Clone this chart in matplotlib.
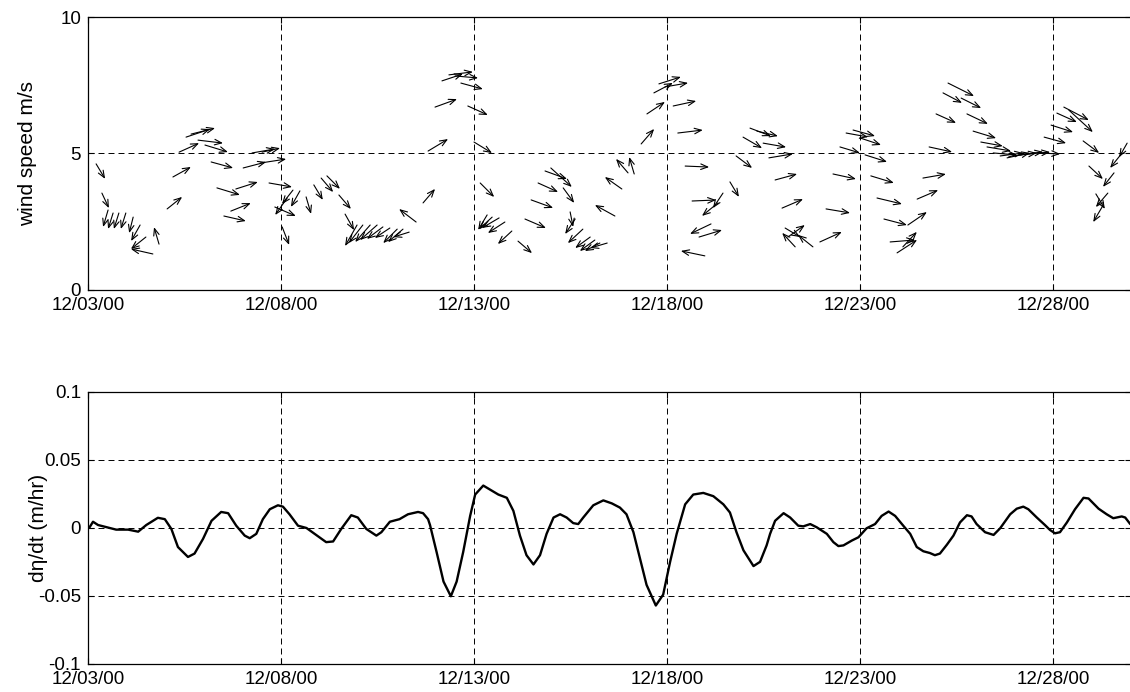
import matplotlib
matplotlib.use('Agg')
import matplotlib.pyplot as plt

plt.rcParams['font.family'] = ['Liberation Sans', 'DejaVu Sans']
plt.rcParams['lines.scale_dashes'] = False

# ---------------- data ----------------
tick_days = [0, 5, 10, 15, 20, 25]
tick_labels = ['12/03/00', '12/08/00', '12/13/00', '12/18/00', '12/23/00', '12/28/00']

# wind arrows: time (days since 12/03/00), wind speed (m/s), arrow components (u east, v north)
wind_t = [0.21, 0.36, 0.52, 0.65, 0.80, 0.98, 1.17, 1.35, 1.50, 1.68, 1.84, 2.05, 2.20, 2.36, 2.54,
          2.67, 2.85, 3.03, 3.19, 3.34, 3.52, 3.70, 3.83, 4.02, 4.25, 4.46, 4.51, 4.69, 4.84, 5.03,
          5.16, 5.31, 5.49, 5.65, 5.85, 6.04, 6.19, 6.50, 6.66, 6.97, 7.12, 7.31, 7.49, 7.64, 7.82,
          8.01, 8.16, 8.32, 8.50, 8.68, 8.81, 8.99, 9.17, 9.35, 9.51, 9.66, 9.84, 10.00, 10.16, 10.34,
          10.47, 10.65, 10.80, 10.98, 11.14, 11.32, 11.48, 11.66, 11.84, 11.99, 12.31, 12.49, 12.62, 12.82, 13.01,
          13.13, 13.26, 13.45, 13.65, 13.83, 13.99, 14.15, 14.33, 14.48, 14.66, 14.79, 14.95, 15.16, 15.28, 15.47,
          15.65, 15.83, 15.98, 16.14, 16.32, 16.45, 16.63, 16.79, 16.97, 17.15, 17.33, 17.49, 17.64, 17.80, 17.98,
          18.06, 18.13, 18.32, 18.78, 18.96, 19.12, 19.30, 19.48, 19.64, 19.82, 20.00, 20.13, 20.28, 20.44, 20.62,
          20.78, 20.96, 21.11, 21.24, 21.48, 21.63, 21.79, 21.97, 22.15, 22.28, 22.62, 22.77, 22.93, 23.13, 23.29,
          23.45, 23.63, 23.81, 23.96, 24.15, 24.33, 24.59, 24.77, 24.95, 25.10, 25.28, 25.41, 25.78, 25.93, 26.11,
          26.30, 26.42, 26.58, 26.79, 26.92]
wind_speed = [4.62, 3.55, 2.93, 2.82, 2.82, 2.82, 2.67, 2.38, 1.94, 1.32, 1.68, 2.97, 4.14, 5.05, 5.60,
              5.71, 5.49, 5.31, 4.69, 3.74, 2.71, 2.89, 3.70, 4.47, 5.02, 4.65, 5.05, 3.92, 3.04, 2.31,
              3.37, 3.66, 3.63, 3.41, 3.85, 4.10, 4.18, 3.48, 2.78, 2.38, 2.38, 2.38, 2.38, 2.31, 2.27,
              2.23, 2.23, 2.12, 2.49, 3.19, 5.09, 6.70, 7.66, 7.88, 7.84, 7.58, 6.74, 5.42, 3.92, 2.75,
              2.67, 2.64, 2.49, 2.16, 1.79, 2.60, 3.30, 3.92, 4.36, 4.47, 3.74, 2.86, 2.60, 2.23, 1.94,
              1.83, 1.72, 1.72, 2.71, 3.70, 4.29, 4.25, 5.35, 6.45, 7.22, 7.55, 7.44, 6.74, 5.75, 4.54,
              3.26, 1.94, 1.25, 2.42, 3.19, 3.55, 3.96, 4.91, 5.60, 5.93, 5.82, 5.38, 4.84, 4.03, 3.00,
              2.27, 1.94, 1.58, 1.58, 1.76, 2.97, 4.25, 5.24, 5.75, 5.86, 5.57, 4.95, 4.18, 3.37, 2.60,
              1.76, 1.36, 1.58, 2.38, 3.33, 4.10, 5.24, 6.45, 7.22, 7.58, 7.03, 6.45, 5.82, 5.42, 5.24,
              5.02, 4.91, 4.84, 4.91, 4.95, 4.98, 5.02, 5.60, 6.04, 6.48, 6.70, 6.59, 5.46, 4.54, 3.52,
              3.11, 3.55, 4.29, 5.02, 5.38]
wind_u = [1.8, 1.4, -1.0, -1.0, -1.0, -1.0, -0.8, -1.8, -3.0, -4.4, -1.0, 3.0, 3.6, 4.0, 4.8,
          4.8, 5.0, 4.6, 4.4, 4.6, 4.4, 4.0, 4.4, 4.6, 4.6, 5.2, 3.6, 4.6, 4.2, 1.4,
          -2.4, -2.2, -1.8, 1.0, 1.8, 2.4, 2.6, 2.4, 1.8, -2.4, -2.8, -3.0, -3.4, -3.2, -3.0,
          -2.8, -3.0, -3.2, -3.4, 2.4, 4.0, 4.4, 4.2, 4.8, 4.6, 4.4, 4.0, 3.6, 2.8, -1.8,
          -2.6, -3.4, -3.4, -2.8, 2.8, 4.2, 4.4, 4.0, 4.4, 4.2, 2.2, 0.6, -2.0, -3.0, -3.0,
          -3.0, -3.0, -3.4, -4.0, -3.4, -2.4, -1.0, 2.6, 3.6, 3.8, 4.4, 4.6, 4.6, 5.0, 4.8,
          4.8, 4.6, -4.8, -4.2, -3.2, -2.0, 1.8, 3.2, 3.8, 4.2, 4.2, 4.6, 4.8, 4.4, 4.2,
          3.0, 3.4, -2.6, -3.0, 4.4, 4.8, 4.6, 4.0, 4.4, 4.4, 4.2, 4.4, 4.6, 5.0, 4.6,
          5.0, 4.0, 2.8, 3.8, 4.2, 4.6, 4.6, 4.0, 3.8, 5.2, 4.0, 4.2, 4.6, 4.4, 4.8,
          4.8, 4.6, 4.6, 4.8, 4.6, 4.6, 4.6, 4.4, 4.4, 4.0, 5.0, 4.8, 3.2, 2.8, 1.8,
          -2.0, -2.4, -2.2, -2.4, -1.6]
wind_v = [-3.0, -3.0, -3.4, -3.2, -3.2, -3.2, -3.2, -3.2, -2.4, 1.0, 3.4, 2.4, 2.0, 1.8, 1.6,
          1.2, -0.6, -1.4, -1.2, -1.4, -1.0, 1.6, 1.4, 1.2, 0.8, 0.8, 0.8, -0.8, -1.8, -3.6,
          -3.4, -2.8, -3.2, -3.4, -3.0, -2.8, -2.6, -2.8, -3.2, -4.2, -3.6, -3.4, -3.0, -2.4, -2.0,
          -2.8, -2.6, -1.0, 2.6, 2.8, 2.4, 1.6, 1.4, 0.6, -0.4, -1.2, -1.8, -2.2, -2.8, -3.0,
          -2.4, -2.0, -2.2, -2.6, -2.4, -1.8, -1.6, -1.8, -1.6, -3.8, -3.0, -3.0, -3.0, -2.8, -2.2,
          -2.2, -1.6, -1.0, 2.2, 2.4, 2.8, 3.4, 3.0, 2.4, 2.0, 1.4, 0.8, 1.0, 0.6, -0.2,
          0.2, 1.4, 1.0, -2.0, -2.6, -3.0, -3.0, -2.4, -2.2, -1.6, -1.0, -0.8, 0.8, 1.2, 1.8,
          -1.8, 2.4, 2.8, 2.4, 2.0, -0.8, -1.0, -1.2, -0.8, -1.2, -1.4, -1.4, -1.4, -1.2, -1.2,
          0.4, 2.6, 3.0, 2.6, 1.8, 0.8, -1.0, -1.8, -2.0, -2.6, -2.0, -2.0, -1.4, -0.8, -0.8,
          -0.4, 0.6, 1.0, 0.6, 0.6, 0.4, -0.2, -1.2, -1.4, -1.8, -2.6, -4.4, -2.4, -2.6, -3.0,
          -3.4, -2.8, -2.8, -3.0, -2.8]

# rate of change of sea level
deta_t = [0.00, 0.04, 0.13, 0.26, 0.43, 0.73, 1.04, 1.30, 1.51, 1.81, 1.99, 2.16, 2.33, 2.59, 2.76,
          2.98, 3.20, 3.45, 3.63, 3.84, 4.06, 4.19, 4.36, 4.53, 4.71, 4.92, 5.05, 5.22, 5.44, 5.66,
          5.87, 6.17, 6.35, 6.56, 6.82, 6.99, 7.21, 7.47, 7.60, 7.82, 8.07, 8.29, 8.55, 8.68, 8.81,
          8.86, 9.03, 9.21, 9.40, 9.55, 9.72, 9.90, 10.03, 10.24, 10.41, 10.63, 10.85, 11.02, 11.19, 11.36,
          11.54, 11.71, 11.88, 12.06, 12.23, 12.40, 12.57, 12.70, 12.83, 13.09, 13.35, 13.57, 13.78, 13.95, 14.13,
          14.30, 14.47, 14.71, 14.90, 15.08, 15.25, 15.47, 15.68, 15.94, 16.20, 16.46, 16.63, 16.80, 16.98, 17.24,
          17.41, 17.58, 17.67, 17.80, 18.02, 18.19, 18.40, 18.53, 18.71, 18.88, 19.14, 19.31, 19.44, 19.57, 19.79,
          19.96, 20.17, 20.39, 20.56, 20.74, 20.91, 21.12, 21.30, 21.47, 21.64, 21.81, 21.94, 22.07, 22.25, 22.42,
          22.59, 22.77, 22.89, 23.02, 23.24, 23.46, 23.63, 23.89, 24.06, 24.23, 24.36, 24.58, 24.79, 24.92, 25.05,
          25.18, 25.36, 25.57, 25.79, 25.92, 26.18, 26.39, 26.56, 26.78, 26.87, 27.00]
deta_dt = [0.0000, 0.0005, 0.0046, 0.0022, 0.0010, -0.0012, -0.0012, -0.0027, 0.0022, 0.0075, 0.0065, -0.0007, -0.0140, -0.0213, -0.0188,
           -0.0080, 0.0053, 0.0118, 0.0109, 0.0017, -0.0056, -0.0075, -0.0043, 0.0065, 0.0138, 0.0167, 0.0157, 0.0101, 0.0017, 0.0000,
           -0.0043, -0.0104, -0.0099, -0.0007, 0.0094, 0.0077, -0.0007, -0.0056, -0.0031, 0.0046, 0.0065, 0.0101, 0.0118, 0.0109, 0.0065,
           0.0022, -0.0176, -0.0394, -0.0502, -0.0394, -0.0176, 0.0089, 0.0246, 0.0312, 0.0283, 0.0246, 0.0222, 0.0126, -0.0056, -0.0200,
           -0.0268, -0.0200, -0.0043, 0.0077, 0.0101, 0.0077, 0.0036, 0.0029, 0.0077, 0.0167, 0.0203, 0.0181, 0.0150, 0.0101, -0.0031,
           -0.0225, -0.0418, -0.0570, -0.0490, -0.0249, -0.0043, 0.0174, 0.0246, 0.0258, 0.0234, 0.0174, 0.0114, -0.0031, -0.0164, -0.0280,
           -0.0249, -0.0128, -0.0043, 0.0053, 0.0109, 0.0077, 0.0017, 0.0012, 0.0029, 0.0005, -0.0043, -0.0104, -0.0133, -0.0128, -0.0092,
           -0.0068, -0.0002, 0.0029, 0.0089, 0.0121, 0.0089, 0.0017, -0.0043, -0.0140, -0.0171, -0.0184, -0.0200, -0.0188, -0.0123, -0.0056,
           0.0041, 0.0094, 0.0085, 0.0029, -0.0031, -0.0051, -0.0002, 0.0101, 0.0142, 0.0157, 0.0138, 0.0077, 0.0022, -0.0014, -0.0039,
           -0.0031, 0.0041, 0.0138, 0.0222, 0.0217, 0.0142, 0.0101, 0.0072, 0.0085, 0.0077, 0.0029]

# ---------------- figure ----------------
W, H = 1130, 692
fig = plt.figure(figsize=(W / 100, H / 100), dpi=100)
ax1 = fig.add_axes([88 / W, 1 - 290 / H, 1043 / W, 273 / H])
ax2 = fig.add_axes([88 / W, 1 - 664 / H, 1043 / W, 272 / H])

TFS = 13.5   # tick labels
LFS = 15     # axis labels
for ax in (ax1, ax2):
    ax.set_xlim(0, 27.02)
    ax.set_xticks(tick_days)
    ax.set_xticklabels(tick_labels)
    ax.tick_params(direction='in', length=4, width=0.8, top=True, right=True,
                   labelsize=TFS, pad=5, colors='k')
    ax.grid(True, color='k', lw=0.7, ls=(0, (4.3, 2.9)))
    for sp in ax.spines.values():
        sp.set_linewidth(0.9)
        sp.set_color('k')

ax1.set_ylim(0, 10)
ax1.set_yticks([0, 5, 10])
ax1.set_ylabel('wind speed m/s', fontsize=LFS)
ax1.yaxis.set_label_coords(-0.049, 0.5)

k = 3.6  # points per arrow unit
for ti, si, ui, vi in zip(wind_t, wind_speed, wind_u, wind_v):
    ax1.annotate('', xy=(ti, si), xytext=(ui * k, vi * k), textcoords='offset points',
                 arrowprops=dict(arrowstyle='<-, head_length=0.5, head_width=0.2',
                                 lw=0.8, color='k', shrinkA=0, shrinkB=0))

ax2.plot(deta_t, deta_dt, color='k', lw=1.7, solid_joinstyle='round', solid_capstyle='round')
ax2.set_ylim(-0.1, 0.1)
ax2.set_yticks([-0.1, -0.05, 0, 0.05, 0.1])
ax2.set_yticklabels(['-0.1', '-0.05', '0', '0.05', '0.1'])
ax2.set_ylabel('d\u03b7/dt (m/hr)', fontsize=LFS)
ax2.yaxis.set_label_coords(-0.038, 0.5)

fig.savefig('out.png', dpi=100)
